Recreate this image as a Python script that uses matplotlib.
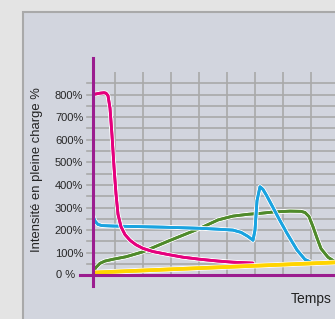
import matplotlib
matplotlib.use("Agg")
import matplotlib.pyplot as plt
import matplotlib.patheffects as pe
from matplotlib.patches import Rectangle

plt.rcParams['font.family'] = ['Liberation Sans', 'DejaVu Sans']

# time axis in grid-relative units (axis origin = 0), values in %
mag_x = [0, 7, 11, 13, 15, 17, 19, 21, 23, 25, 28, 32, 37, 43, 50, 60, 75, 90, 107, 125, 140, 160]
mag_y = [800, 806, 808, 806, 795, 740, 620, 480, 360, 270, 215, 180, 155, 135, 119, 105, 92, 80, 71, 63, 58, 54]

blue_x = [0, 2, 5, 9, 20, 40, 70, 107, 125, 140, 148, 155, 160, 162, 164, 167, 170, 174, 180, 186, 194, 204, 212, 218]
blue_y = [262, 240, 225, 220, 218, 216, 213, 208, 204, 200, 190, 172, 155, 200, 330, 392, 380, 350, 300, 250, 186, 112, 70, 58]

green_x = [0, 3, 7, 12, 20, 33, 50, 74, 107, 125, 140, 155, 167, 180, 197, 208, 212, 216, 220, 224, 228, 235, 242]
green_y = [14, 35, 53, 63, 71, 82, 104, 149, 208, 245, 262, 270, 274, 280, 284, 283, 278, 260, 215, 165, 118, 80, 60]

yellow_x = [0, 242]
yellow_y = [12, 57]

fig = plt.figure(figsize=(3.35, 3.19), dpi=100)
fig.patch.set_facecolor('#e4e4e4')
fig.patches.append(Rectangle((23 / 335, -0.1), 1.2, 1 - 12 / 319 + 0.1, transform=fig.transFigure,
                             facecolor='#d2d5de', edgecolor='#a9a9a9', linewidth=1.5, zorder=-5))

ax = fig.add_axes([93 / 335, (319 - 275.3) / 319, 242 / 335, (275.3 - 71.7) / 319])
ax.set_facecolor('none')
ax.set_xlim(0, 242)
ax.set_ylim(0, 901)
for s in ax.spines.values():
    s.set_visible(False)

grid_c = '#a9a9a9'
for gx in range(22, 242, 28):
    ax.axvline(gx, color=grid_c, lw=1.2, zorder=1)
for gy in range(50, 851, 50):
    ax.axhline(gy, color=grid_c, lw=1.2, zorder=1, xmin=-6 / 242, clip_on=False)

ax.set_yticks(range(100, 801, 100))
ax.set_yticklabels([f'{v}%' for v in range(100, 801, 100)])
ax.tick_params(axis='y', length=0, pad=7, labelsize=8, labelcolor='#262626')
ax.set_xticks([])
ax.text(-18, 0, '0 %', ha='right', va='center', fontsize=8, color='#262626')

halo = [pe.withStroke(linewidth=3.4, foreground='white'), pe.Normal()]
ax.plot(green_x, green_y, color='#4f8a2b', lw=2.0, path_effects=halo, zorder=3, solid_capstyle='round')
ax.plot(blue_x, blue_y, color='#1aa3e0', lw=2.0, path_effects=halo, zorder=4, solid_capstyle='round')
ax.plot(mag_x, mag_y, color='#e5007d', lw=2.0, path_effects=halo, zorder=5, solid_capstyle='round')
ax.plot(yellow_x, yellow_y, color='#ffd400', lw=2.6, path_effects=[pe.withStroke(linewidth=3.8, foreground='white'), pe.Normal()],
        zorder=6, solid_capstyle='round')

purple = '#9b1d8f'
ax.axhline(0, xmin=-13 / 242, xmax=1, color=purple, lw=2.2, clip_on=False, zorder=7)
ax.axvline(0, ymin=-11 / 203.6, ymax=(275.3 - 57.7) / 203.6, color=purple, lw=2.2, clip_on=False, zorder=7)

fig.text(37 / 335, 1 - 170 / 319, 'Intensité en pleine charge %', rotation=90,
         ha='center', va='center', fontsize=9.4, color='#222222')
fig.text(291 / 335, 1 - 303 / 319, 'Temps', ha='left', va='baseline', fontsize=10, color='#222222')

fig.savefig('out.png', dpi=100, facecolor=fig.get_facecolor())
